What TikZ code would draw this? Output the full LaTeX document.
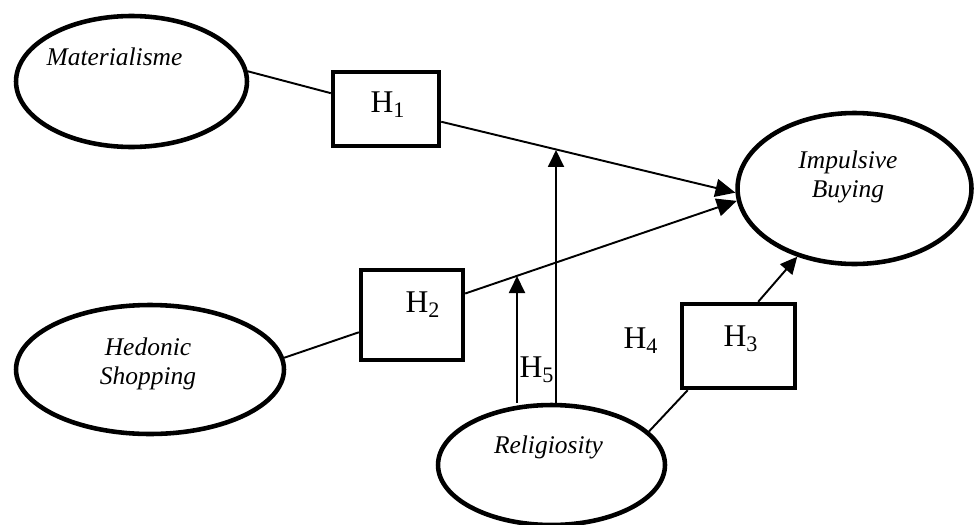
\documentclass[tikz,border=0pt]{standalone}
\usepackage{fontspec}
\setmainfont{Liberation Serif}
\usetikzlibrary{shapes.geometric, arrows.meta}
\tikzset{
	>={Triangle[length=0.34cm, width=0.32cm]}, % filled arrow heads
	construct/.style={ellipse, draw, line width=2.6pt}, % the latent variables
	hyp/.style={rectangle, draw, line width=2.5pt}, % the hypothesis boxes
	cname/.style={font=\fontsize{14.5}{16.5}\selectfont\itshape, align=center}, % text inside an ellipse
	hname/.style={font=\fontsize{18}{21}\selectfont}, % H labels
	link/.style={line width=1.1pt}, % plain connector
	path/.style={line width=1.1pt, ->}, % directed connector
	big/.style={-{Triangle[length=0.4cm, width=0.36cm]}}, % heads at Impulsive Buying
}
\begin{document}
\begin{tikzpicture}[x=0.02cm, y=-0.02cm]
	\useasboundingbox (0,0) rectangle (976,524);
			\node[construct, minimum width=4.62cm, minimum height=2.62cm,
				label={[cname, xshift=-0.34cm, yshift=0.5cm]center:Materialisme}] (mat) at (131.5,81.5) {};
			\node[construct, minimum width=5.36cm, minimum height=2.58cm,
				label={[cname, xshift=-0.04cm, yshift=0.11cm]center:Hedonic\\Shopping}] (hed) at (150,369.5) {};
			\node[construct, minimum width=4.68cm, minimum height=3.02cm,
				label={[cname, xshift=-0.13cm, yshift=0.24cm]center:Impulsive\\Buying}] (ib) at (854.5,188.5) {};
			\node[construct, minimum width=4.54cm, minimum height=2.4cm,
				label={[cname, xshift=-0.06cm, yshift=0.36cm]center:Religiosity}] (rel) at (551.5,465) {};
			\node[hyp, minimum width=2.12cm, minimum height=1.48cm,
				label={[hname, xshift=0.04cm, yshift=0.09cm]center:H\textsubscript{1}}] (h1) at (386,109) {};
			\node[hyp, minimum width=2.04cm, minimum height=1.8cm,
				label={[hname, xshift=0.22cm, yshift=0.21cm]center:H\textsubscript{2}}] (h2) at (412,315) {};
			\node[hyp, minimum width=2.26cm, minimum height=1.68cm,
				label={[hname, xshift=0.05cm, yshift=0.15cm]center:H\textsubscript{3}}] (h3) at (738.5,346) {};
			\node[hname] (h4) at (641,340.5) {H\textsubscript{4}};
			\node[hname] (h5) at (537,369.5) {H\textsubscript{5}};
			\coordinate (m2) at (517,276);
			\coordinate (m1) at (556,150);
	\draw 	(mat.5) edge[link] (h1.164)
			(h1.-13) edge[path, big] (ib.182)
			(hed.5) edge[link] (h2.198)
			(h2.22) edge[path, big] (ib.186)
			(rel.19) edge[link] (h3.221)
			(h3.66) edge[path] (ib.230)
			(rel.north -| m2) edge[path] (m2)
			(rel.north -| m1) edge[path] (m1);
\end{tikzpicture}
\end{document}
